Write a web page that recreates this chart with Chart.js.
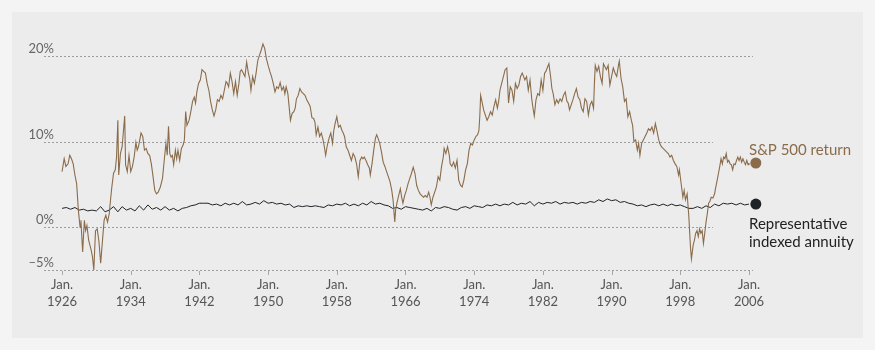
<!DOCTYPE html>
<html>
<head>
<meta charset="utf-8">
<script src="https://cdn.jsdelivr.net/npm/chart.js@4.4.0/dist/chart.umd.min.js"></script>
<style>
  html, body { margin: 0; padding: 0; background: #f4f4f4; }
  #panel { position: absolute; left: 12px; top: 12px; width: 851px; height: 326px; background: #ececec; }
  #wrap { position: absolute; left: 0; top: 0; width: 875px; height: 350px; }
</style>
</head>
<body>
<div id="panel"></div>
<div id="wrap"><canvas id="chart" width="875" height="350"></canvas></div>
<script>
// S&P 500 rolling return as [year, percent]
var sp500 = [
  [1926.0,6.5],[1926.25,8.0],[1926.45,7.1],[1926.7,7.4],[1926.9,8.4],[1927.1,8.0],[1927.3,7.4],[1927.5,6.1],
  [1927.7,5.1],[1927.9,2.0],[1928.1,0.0],[1928.2,0.8],[1928.4,-2.9],[1928.6,0.8],[1928.75,-0.4],[1928.9,0.2],
  [1929.1,-1.5],[1929.4,-2.7],[1929.55,-3.5],[1929.7,-5.0],[1929.9,-0.4],[1930.1,-0.2],[1930.3,-1.7],[1930.5,-4.2],
  [1930.7,-1.7],[1930.9,0.8],[1931.1,1.4],[1931.3,0.6],[1931.5,1.6],[1931.65,3.2],[1931.8,4.7],[1932.0,6.3],
  [1932.2,6.7],[1932.35,8.2],[1932.5,12.5],[1932.6,6.1],[1932.8,8.6],[1933.0,9.4],[1933.3,13.0],[1933.4,7.3],
  [1933.6,6.5],[1933.8,8.4],[1934.0,6.5],[1934.2,7.1],[1934.4,8.2],[1934.6,9.9],[1934.75,9.0],[1934.9,9.4],
  [1935.2,11.0],[1935.4,10.6],[1935.6,9.0],[1935.8,9.2],[1936.0,8.6],[1936.2,8.4],[1936.4,7.4],[1936.6,5.9],
  [1936.8,4.3],[1937.0,3.9],[1937.2,4.1],[1937.45,4.7],[1937.7,5.7],[1937.9,7.8],[1938.1,9.8],[1938.25,8.4],
  [1938.4,11.8],[1938.55,8.6],[1938.7,8.2],[1938.85,8.4],[1939.0,7.3],[1939.2,9.0],[1939.35,8.0],[1939.5,9.0],
  [1939.7,7.8],[1939.9,9.2],[1940.1,9.6],[1940.25,10.2],[1940.4,13.5],[1940.55,11.9],[1940.8,12.5],[1941.0,13.5],
  [1941.2,14.7],[1941.4,15.2],[1941.55,14.5],[1941.7,15.8],[1941.9,16.8],[1942.1,17.2],[1942.3,18.4],[1942.5,18.2],
  [1942.7,18.0],[1942.9,16.8],[1943.1,16.0],[1943.3,14.7],[1943.5,13.7],[1943.7,13.0],[1943.9,13.7],[1944.1,14.9],
  [1944.3,14.7],[1944.5,15.4],[1944.7,15.0],[1944.9,16.0],[1945.1,17.0],[1945.25,16.8],[1945.4,16.4],[1945.6,18.0],
  [1945.8,17.0],[1946.0,15.6],[1946.2,17.0],[1946.4,15.4],[1946.6,16.8],[1946.75,18.2],[1946.9,18.4],[1947.1,18.0],
  [1947.3,17.6],[1947.5,19.3],[1947.7,18.0],[1947.85,17.4],[1948.0,16.0],[1948.2,17.6],[1948.4,16.8],[1948.6,18.0],
  [1948.8,19.5],[1949.0,20.1],[1949.2,20.7],[1949.4,21.4],[1949.6,20.9],[1949.8,19.7],[1950.0,18.9],[1950.2,18.2],
  [1950.4,17.6],[1950.6,16.8],[1950.8,15.8],[1951.0,16.4],[1951.2,16.2],[1951.4,16.9],[1951.6,16.0],[1951.8,16.4],
  [1951.95,15.6],[1952.1,16.4],[1952.3,15.6],[1952.6,12.5],[1952.8,13.3],[1953.0,13.5],[1953.15,13.9],[1953.3,15.0],
  [1953.5,15.4],[1953.7,16.2],[1953.9,15.8],[1954.1,15.6],[1954.3,15.4],[1954.5,14.9],[1954.7,14.5],[1954.9,14.1],
  [1955.1,12.8],[1955.3,12.7],[1955.45,12.3],[1955.6,10.8],[1955.8,11.7],[1956.0,10.6],[1956.2,11.0],[1956.4,10.2],
  [1956.55,9.4],[1956.7,8.4],[1956.9,9.6],[1957.1,10.4],[1957.3,11.0],[1957.5,9.8],[1957.65,11.3],[1957.8,12.1],
  [1958.0,12.9],[1958.2,11.7],[1958.4,11.9],[1958.6,11.3],[1958.75,11.0],[1958.9,10.6],[1959.1,9.4],[1959.3,9.0],
  [1959.5,8.4],[1959.7,7.8],[1959.9,8.6],[1960.1,8.2],[1960.3,7.4],[1960.5,5.9],[1960.7,7.8],[1960.9,8.2],
  [1961.05,8.0],[1961.2,8.2],[1961.4,7.8],[1961.6,7.3],[1961.8,6.9],[1961.9,6.1],[1962.1,7.4],[1962.3,9.0],
  [1962.5,10.4],[1962.65,10.8],[1962.8,10.4],[1963.0,9.8],[1963.2,8.8],[1963.4,7.6],[1963.6,7.1],[1963.8,6.5],
  [1964.0,5.9],[1964.2,5.3],[1964.4,4.3],[1964.55,3.2],[1964.75,0.6],[1964.85,2.0],[1965.0,2.8],[1965.2,3.7],
  [1965.4,4.5],[1965.55,3.5],[1965.7,2.8],[1965.9,3.7],[1966.1,4.3],[1966.3,5.1],[1966.5,5.7],[1966.7,6.3],
  [1966.9,7.0],[1967.1,6.3],[1967.3,4.9],[1967.5,4.3],[1967.7,3.9],[1967.9,3.7],[1968.1,3.5],[1968.3,3.7],
  [1968.5,3.5],[1968.7,4.1],[1968.85,3.5],[1969.0,2.6],[1969.2,3.5],[1969.4,4.1],[1969.6,4.7],[1969.8,5.9],
  [1970.0,5.5],[1970.2,7.1],[1970.4,8.2],[1970.5,9.2],[1970.7,8.6],[1970.9,9.4],[1971.1,8.4],[1971.2,7.4],
  [1971.4,7.1],[1971.6,7.6],[1971.8,6.9],[1972.0,7.8],[1972.2,5.5],[1972.4,4.9],[1972.6,4.7],[1972.8,5.5],
  [1973.0,6.7],[1973.2,7.4],[1973.4,9.0],[1973.6,9.8],[1973.8,9.6],[1974.0,10.2],[1974.2,10.6],[1974.4,10.8],
  [1974.55,11.3],[1974.65,12.9],[1974.75,15.4],[1974.9,14.7],[1975.1,13.7],[1975.3,13.1],[1975.5,12.5],[1975.7,12.9],
  [1975.9,13.5],[1976.1,13.1],[1976.3,14.1],[1976.5,14.9],[1976.7,13.9],[1976.85,14.7],[1977.0,16.0],[1977.2,16.8],
  [1977.4,17.6],[1977.6,18.4],[1977.8,18.6],[1977.9,16.6],[1978.0,14.5],[1978.2,16.4],[1978.4,16.0],[1978.6,14.7],
  [1978.8,16.8],[1979.0,16.2],[1979.2,16.6],[1979.4,17.6],[1979.6,18.0],[1979.9,17.2],[1980.1,17.6],[1980.3,16.0],
  [1980.5,17.2],[1980.7,15.0],[1980.85,13.9],[1981.0,13.0],[1981.2,14.9],[1981.4,15.6],[1981.6,15.4],[1981.8,17.2],
  [1982.0,16.0],[1982.2,18.0],[1982.35,18.2],[1982.5,18.6],[1982.7,19.1],[1982.9,17.6],[1983.05,16.2],[1983.2,15.6],
  [1983.4,14.3],[1983.6,14.9],[1983.8,14.5],[1984.0,15.0],[1984.2,14.7],[1984.4,15.4],[1984.6,15.8],[1984.8,14.7],
  [1984.95,14.5],[1985.1,13.7],[1985.3,14.3],[1985.5,14.9],[1985.7,15.6],[1985.9,16.2],[1986.1,15.2],[1986.3,14.9],
  [1986.5,13.9],[1986.7,13.5],[1986.9,15.0],[1987.1,14.7],[1987.3,13.1],[1987.5,14.3],[1987.7,14.7],[1987.9,13.9],
  [1988.0,16.8],[1988.1,18.9],[1988.3,18.2],[1988.5,18.8],[1988.7,17.6],[1988.9,16.8],[1989.05,19.1],[1989.2,18.8],
  [1989.4,18.4],[1989.6,18.9],[1989.8,16.6],[1990.0,17.6],[1990.2,18.6],[1990.4,18.0],[1990.6,17.6],[1990.8,18.9],
  [1990.9,19.4],[1991.1,17.4],[1991.3,16.4],[1991.5,14.7],[1991.7,15.0],[1991.9,12.9],[1992.1,13.5],[1992.3,12.5],
  [1992.45,11.9],[1992.6,10.0],[1992.8,10.2],[1993.0,9.0],[1993.15,9.8],[1993.3,8.4],[1993.5,9.8],[1993.7,10.2],
  [1993.9,10.6],[1994.1,11.0],[1994.3,11.5],[1994.5,11.3],[1994.7,11.7],[1994.9,11.0],[1995.1,12.1],[1995.3,11.2],
  [1995.45,10.4],[1995.6,9.8],[1995.8,9.4],[1996.0,9.2],[1996.2,9.0],[1996.4,8.8],[1996.6,8.6],[1996.8,8.2],
  [1997.0,8.4],[1997.2,7.8],[1997.4,7.4],[1997.6,7.1],[1997.8,6.1],[1997.9,6.7],[1998.1,5.1],[1998.3,3.5],
  [1998.45,4.3],[1998.6,3.2],[1998.8,3.9],[1999.0,1.2],[1999.1,-0.7],[1999.2,-2.5],[1999.3,-3.7],[1999.5,-2.1],
  [1999.65,-1.5],[1999.8,-0.7],[1999.95,-0.4],[2000.1,-1.1],[2000.25,-0.2],[2000.4,-0.7],[2000.55,-0.4],[2000.7,-1.9],
  [2000.85,-0.7],[2001.0,0.6],[2001.15,1.6],[2001.3,2.8],[2001.45,3.0],[2001.6,3.5],[2001.8,3.4],[2002.0,3.9],
  [2002.1,4.5],[2002.3,5.5],[2002.45,6.3],[2002.6,7.1],[2002.75,8.0],[2002.9,7.4],[2003.05,8.2],[2003.2,8.0],
  [2003.35,8.6],[2003.5,7.6],[2003.65,7.8],[2003.8,7.4],[2003.95,7.3],[2004.1,6.7],[2004.25,7.4],[2004.4,7.3],
  [2004.55,7.8],[2004.7,8.2],[2004.85,7.8],[2005.0,8.2],[2005.15,7.6],[2005.3,8.0],[2005.45,7.6],[2005.6,7.3],
  [2005.75,7.8],[2005.9,7.3],[2006.0,7.5]
];

// Representative indexed annuity, one reading every half year from Jan. 1926
var annuityStart = 1926;
var annuityStep = 0.5;
var annuityValues = [
  2.2,2.3,2.1,2.3,2.0,2.1,1.9,2.0,1.9,2.4, 1.8,2.0,2.4,1.8,2.4,2.0,2.2,1.9,2.5,2.0,
  2.6,2.1,2.3,2.0,2.4,2.0,2.2,1.9,2.2,2.3, 2.5,2.6,2.8,2.8,2.8,2.6,2.7,2.5,2.8,2.6,
  2.8,2.6,3.0,2.6,2.7,2.9,2.7,3.1,2.8,2.9, 2.7,2.8,2.6,2.7,2.3,2.5,2.4,2.5,2.4,2.5,
  2.4,2.3,2.6,2.5,2.7,2.6,2.8,2.5,2.7,2.5, 2.8,2.6,3.0,2.7,2.8,2.6,2.5,2.2,2.3,2.1,
  2.4,2.3,2.2,2.1,2.0,2.2,1.9,2.3,2.2,2.4, 2.3,2.1,2.0,2.3,2.4,2.2,2.5,2.4,2.3,2.6,
  2.5,2.7,2.5,2.7,2.6,2.9,2.6,2.8,2.7,3.0, 2.5,2.9,2.7,2.9,2.8,3.0,2.7,2.9,2.8,2.9,
  2.7,2.9,2.8,3.0,2.9,3.2,3.0,3.3,3.1,3.2, 2.9,3.0,2.8,2.7,2.5,2.6,2.4,2.6,2.7,2.5,
  2.7,2.5,2.7,2.5,2.6,2.4,2.2,2.2,2.4,2.2, 2.5,2.3,2.7,2.5,2.8,2.7,2.8,2.6,2.8,2.6,
  2.7
];

// End-of-line markers beside the legend text
var markerYear = 2006.8;
var sp500Marker = 7.5;
var annuityMarker = 2.7;

var tickYears = [1926, 1934, 1942, 1950, 1958, 1966, 1974, 1982, 1990, 1998, 2006];
var yGridValues = [20, 10, 0, -5];
var yGridLabels = ['20%', '10%', '0%', '\u20135%'];
// how far right each gridline runs (the middle two stop short of the legend)
var yGridEnds = [2006.47, 2001.8, 2001.8, 2006.47];

var brown = '#8a6c4b';
var dark = '#1f2226';

var annuity = annuityValues.map(function(v, i) {
  return { x: annuityStart + i * annuityStep, y: v };
});

// gridlines, tick marks and all the text are drawn here against the chart scales
var decorations = {
  id: 'decorations',
  beforeDatasetsDraw: function(chart) {
    var ctx = chart.ctx;
    var xs = chart.scales.x, ys = chart.scales.y;
    var left = chart.chartArea.left;
    ctx.save();
    ctx.strokeStyle = '#9d9d9d';
    ctx.lineWidth = 1;
    ctx.setLineDash([2, 2]);
    for (var i = 0; i < yGridValues.length; i++) {
      var y = Math.round(ys.getPixelForValue(yGridValues[i])) + 0.5;
      ctx.beginPath();
      ctx.moveTo(left, y);
      ctx.lineTo(xs.getPixelForValue(yGridEnds[i]), y);
      ctx.stroke();
    }
    ctx.setLineDash([]);
    var base = Math.round(ys.getPixelForValue(-5));
    ctx.strokeStyle = '#a8a8a8';
    tickYears.forEach(function(yr) {
      var x = Math.round(xs.getPixelForValue(yr)) + 0.5;
      ctx.beginPath();
      ctx.moveTo(x, base + 1);
      ctx.lineTo(x, base + 5);
      ctx.stroke();
    });
    ctx.restore();
  },
  afterDraw: function(chart) {
    var ctx = chart.ctx;
    var xs = chart.scales.x, ys = chart.scales.y;
    ctx.save();
    ctx.font = '13px Lato';
    ctx.fillStyle = '#666666';
    ctx.textAlign = 'right';
    ctx.textBaseline = 'middle';
    for (var i = 0; i < yGridValues.length; i++) {
      ctx.fillText(yGridLabels[i], 54, ys.getPixelForValue(yGridValues[i]) - 7);
    }
    ctx.textAlign = 'center';
    ctx.fillStyle = '#555555';
    var base = ys.getPixelForValue(-5);
    tickYears.forEach(function(yr) {
      var x = xs.getPixelForValue(yr);
      ctx.fillText('Jan.', x, base + 15);
      ctx.fillText(String(yr), x, base + 32);
    });
    ctx.textAlign = 'left';
    ctx.font = '15px Lato';
    ctx.fillStyle = brown;
    ctx.fillText('S&P 500 return', 749, 150);
    ctx.fillStyle = '#222222';
    ctx.fillText('Representative', 749, 224);
    ctx.fillText('indexed annuity', 749, 242);
    ctx.restore();
  }
};

new Chart(document.getElementById('chart'), {
  type: 'scatter',
  data: {
    datasets: [
      {
        label: 'Representative indexed annuity',
        data: annuity,
        showLine: true,
        borderColor: dark,
        borderWidth: 1,
        pointRadius: 0,
        tension: 0,
        clip: false,
        order: 2
      },
      {
        label: 'S&P 500 return',
        data: sp500.map(function(p) { return { x: p[0], y: p[1] }; }),
        showLine: true,
        borderColor: brown,
        borderWidth: 1.1,
        pointRadius: 0,
        tension: 0,
        clip: false,
        order: 1
      },
      {
        label: 'markers',
        data: [{ x: markerYear, y: sp500Marker }],
        pointRadius: 5.5,
        pointBackgroundColor: brown,
        pointBorderWidth: 0,
        clip: false
      },
      {
        label: 'markers2',
        data: [{ x: markerYear, y: annuityMarker }],
        pointRadius: 5.5,
        pointBackgroundColor: dark,
        pointBorderWidth: 0,
        clip: false
      }
    ]
  },
  options: {
    responsive: false,
    animation: false,
    events: [],
    layout: { padding: { left: 44, right: 122, top: 56, bottom: 80 } },
    plugins: { legend: { display: false }, tooltip: { enabled: false } },
    scales: {
      x: { type: 'linear', min: 1923.9, max: 2006.47, display: false },
      y: { type: 'linear', min: -5, max: 20, display: false }
    }
  },
  plugins: [decorations]
});
</script>
</body>
</html>
